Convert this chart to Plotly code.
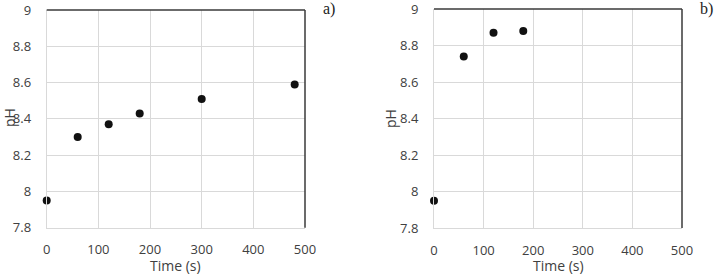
import plotly.graph_objects as go

time_a = [0, 60, 120, 180, 300, 480]
ph_a = [7.95, 8.30, 8.37, 8.43, 8.51, 8.59]
time_b = [0, 60, 120, 180]
ph_b = [7.95, 8.74, 8.87, 8.88]
x_ticks = [0, 100, 200, 300, 400, 500]
y_ticks = [7.8, 8, 8.2, 8.4, 8.6, 8.8, 9]

W, H = 714, 274

fig = go.Figure()
fig.add_trace(go.Scatter(x=time_a, y=ph_a, mode="markers", cliponaxis=False,
                         marker=dict(color="#111111", size=8), xaxis="x", yaxis="y"))
fig.add_trace(go.Scatter(x=time_b, y=ph_b, mode="markers", cliponaxis=False,
                         marker=dict(color="#111111", size=8), xaxis="x2", yaxis="y2"))

tickfont = dict(family="Open Sans, Liberation Sans, sans-serif", size=13, color="#404040")
titlefont = dict(family="Open Sans, Liberation Sans, sans-serif", size=14, color="#404040")
common_x = dict(range=[0, 500], tickvals=x_ticks, showgrid=True, gridcolor="#d9d9d9",
                gridwidth=1, zeroline=False, showline=True, linecolor="#d9d9d9",
                ticks="", tickfont=tickfont, automargin=False, ticklabelstandoff=10,
                ticklabeloverflow="allow")
common_y = dict(range=[7.8, 9], tickvals=y_ticks, showgrid=True, gridcolor="#d9d9d9",
                gridwidth=1, zeroline=False, showline=True, linecolor="#d9d9d9",
                ticks="", tickfont=tickfont, automargin=False, ticklabelstandoff=12,
                ticklabeloverflow="allow")

fig.update_layout(
    width=W, height=H, margin=dict(l=0, r=0, t=0, b=0),
    paper_bgcolor="white", plot_bgcolor="white", showlegend=False,
    xaxis=dict(domain=[46.7 / W, 305 / W], anchor="y", **common_x),
    yaxis=dict(domain=[1 - 227.7 / H, 1 - 10 / H], anchor="x", **common_y),
    xaxis2=dict(domain=[434 / W, 682 / W], anchor="y2", **common_x),
    yaxis2=dict(domain=[1 - 228 / H, 1 - 9 / H], anchor="x2", **common_y),
)

for xr, yr in [("x domain", "y domain"), ("x2 domain", "y2 domain")]:
    fig.add_shape(type="line", xref=xr, yref=yr, x0=0, x1=1, y0=1, y1=1,
                  line=dict(color="#3a3a3a", width=1.5))
    fig.add_shape(type="line", xref=xr, yref=yr, x0=1, x1=1, y0=0, y1=1,
                  line=dict(color="#3a3a3a", width=1.5))

# axis titles
for xc, yc in [((46.7 + 305) / 2, 265.5), ((434 + 682) / 2, 265.5)]:
    fig.add_annotation(text="Time (s)", xref="paper", yref="paper", x=xc / W, y=1 - yc / H,
                       showarrow=False, font=titlefont, xanchor="center", yanchor="middle")
for xc, yc in [(9, 118), (390, 118)]:
    fig.add_annotation(text="pH", xref="paper", yref="paper", x=xc / W, y=1 - yc / H,
                       showarrow=False, font=titlefont, textangle=-90,
                       xanchor="center", yanchor="middle")

labfont = dict(family="Liberation Serif, Times New Roman, serif", size=16, color="#222222")
fig.add_annotation(text="a)", xref="paper", yref="paper", x=329 / W, y=1 - 9 / H,
                   showarrow=False, font=labfont, xanchor="center", yanchor="middle")
fig.add_annotation(text="b)", xref="paper", yref="paper", x=706 / W, y=1 - 9 / H,
                   showarrow=False, font=labfont, xanchor="center", yanchor="middle")

fig.write_html("out.html")
